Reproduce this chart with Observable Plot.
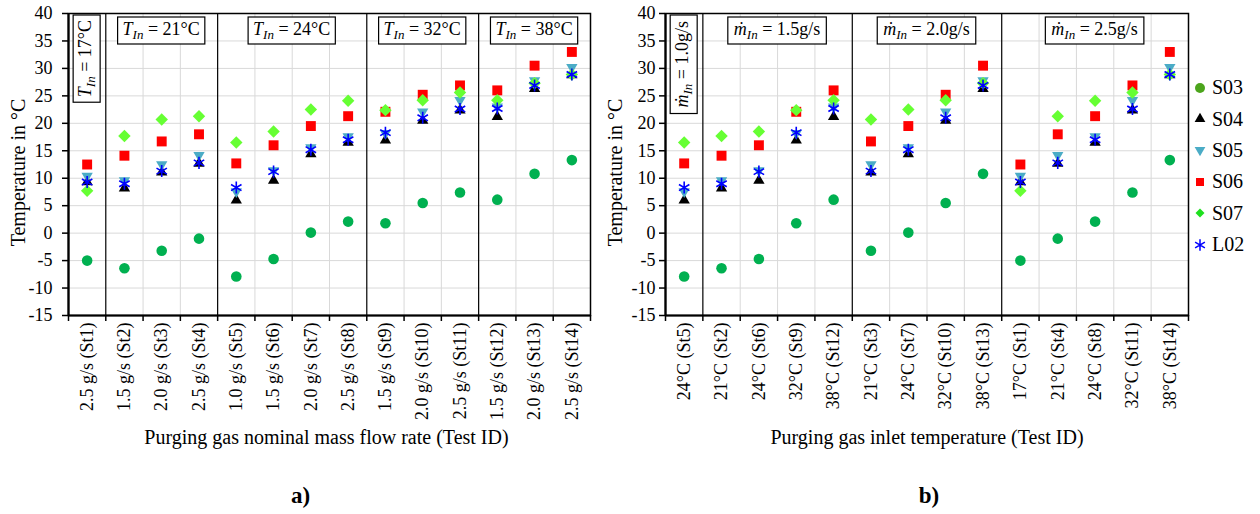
<!DOCTYPE html>
<html><head><meta charset="utf-8">
<script src="https://cdn.jsdelivr.net/npm/d3@7"></script>
<script src="https://cdn.jsdelivr.net/npm/@observablehq/plot@0.6"></script>
<style>
html,body{margin:0;padding:0;background:#fff;}
#root{position:relative;width:1260px;height:514px;overflow:hidden;font-family:"Liberation Serif","Times New Roman",serif;}
#chartA{position:absolute;left:0;top:0;}
#chartB{position:absolute;left:600px;top:0;}
#legend{position:absolute;left:1191px;top:72px;}
.li{display:flex;align-items:center;height:31.4px;font-size:20px;color:#000;}
.li svg{width:18px;height:18px;margin-right:3px;overflow:visible;}
</style></head><body>
<div id="root"><div id="chartA"></div><div id="chartB"></div><div id="legend"></div></div>
<script>
// ---- data ----
const testIds   = ["St1","St2","St3","St4","St5","St6","St7","St8","St9","St10","St11","St12","St13","St14"];
const flowRate  = ["2.5 g/s","1.5 g/s","2.0 g/s","2.5 g/s","1.0 g/s","1.5 g/s","2.0 g/s","2.5 g/s","1.5 g/s","2.0 g/s","2.5 g/s","1.5 g/s","2.0 g/s","2.5 g/s"];
const inletTemp = ["17°C","21°C","21°C","21°C","24°C","24°C","24°C","24°C","32°C","32°C","32°C","38°C","38°C","38°C"];

const S03 = [-5.0, -6.4, -3.2, -1.0, -7.9, -4.7, 0.1, 2.1, 1.8, 5.5, 7.4, 6.1, 10.8, 13.3];
const S04 = [9.3, 8.2, 11.1, 12.7, 6.0, 9.6, 14.4, 16.5, 16.9, 20.5, 22.4, 21.2, 26.3, 28.8];
const S05 = [10.4, 9.6, 12.5, 14.2, 7.6, 11.4, 15.6, 17.6, 18.2, 22.1, 24.2, 23.0, 27.8, 30.2];
const S06 = [12.5, 14.1, 16.7, 18.0, 12.7, 16.0, 19.5, 21.3, 22.1, 25.2, 26.9, 26.0, 30.5, 33.0];
const S07 = [7.7, 17.7, 20.7, 21.3, 16.5, 18.5, 22.5, 24.1, 22.4, 24.2, 25.6, 24.2, 27.3, 28.9];
const L02 = [9.3, 9.0, 11.3, 12.8, 8.3, 11.2, 15.2, 17.0, 18.3, 21.0, 22.6, 22.7, 26.9, 28.9];

const seriesNames = ["S03","S04","S05","S06","S07","L02"];
const seriesValues = {S03, S04, S05, S06, S07, L02};
const yTicks = [-15,-10,-5,0,5,10,15,20,25,30,35,40];

const orderA = testIds;
const orderB = ["St5","St2","St6","St9","St12","St3","St7","St10","St13","St1","St4","St8","St11","St14"];
const groupSizesA = [1,3,4,3,3];
const groupLabelsA = ["17°C","21°C","24°C","32°C","38°C"];
const groupSizesB = [1,4,4,5];
const groupLabelsB = ["1.0g/s","1.5g/s","2.0g/s","2.5g/s"];

// ---- styles ----
const triDown = {draw(ctx, size){const y=Math.sqrt(size/(Math.sqrt(3)*3)); ctx.moveTo(0,y*2); ctx.lineTo(-Math.sqrt(3)*y,-y); ctx.lineTo(Math.sqrt(3)*y,-y); ctx.closePath();}};
const style = {
  S03:{symbol:"circle", r:5.3, fill:"#00b050", stroke:"none"},
  S04:{symbol:"triangle", r:4.2, fill:"#000000", stroke:"none"},
  S05:{symbol:triDown, r:4.2, fill:"#4bacc6", stroke:"none"},
  S06:{symbol:"square", r:5.6, fill:"#ff0000", stroke:"none"},
  S07:{symbol:"diamond2", r:5.6, fill:"#66ff33", stroke:"none"},
  L02:{symbol:"asterisk", r:5.7, fill:"none", stroke:"#0000ff", strokeWidth:1.6}
};
const FONT = '"Liberation Serif","Times New Roman",serif';

function makeChart(o) {
  const n = o.order.length;
  const idx = d3.range(n);
  const cuts = d3.cumsum(o.groupSizes).slice(0,-1).map(c => c - 0.5);
  const bounds = d3.range(n + 1).map(i => i - 0.5);
  const inner = bounds.slice(1,-1).filter(b => !cuts.includes(b));
  const dots = seriesNames.map(s => {
    const rows = o.order.map((t,i) => ({i, v: seriesValues[s][testIds.indexOf(t)]}));
    return Plot.dot(rows, {x:"i", y:"v", ...style[s]});
  });
  const plot = Plot.plot({
    width: o.width, height: 514, marginLeft: o.marginLeft, marginRight: o.marginRight, marginTop: 13, marginBottom: 199,
    style: {fontFamily: FONT, fontSize: "18px", color: "#000", background: "transparent", overflow: "visible"},
    x: {type: "linear", domain: [-0.5, n - 0.5]},
    y: {domain: [-15, 40]},
    marks: [
      Plot.gridY({ticks: yTicks, stroke: "#d9d9d9", strokeOpacity: 1}),
      Plot.gridX({ticks: inner, stroke: "#d9d9d9", strokeOpacity: 1}),
      Plot.ruleX(cuts, {stroke: "#000", strokeWidth: 1.2}),
      Plot.frame({stroke: "#000", strokeWidth: 1.5}),
      Plot.ruleX([bounds[0]], {stroke: "#000", strokeWidth: 2.2}),
      Plot.ruleY([yTicks[0]], {stroke: "#000", strokeWidth: 2.2}),
      Plot.axisY({ticks: yTicks, tickSize: 6, tickPadding: o.tickPadY, tickFormat: d => String(d), fontSize: 18, label: null, strokeWidth: 1.5}),
      Plot.axisX({ticks: bounds, tickSize: 6, tickFormat: () => "", label: null, strokeWidth: 1.5}),
      Plot.axisX({ticks: idx, tickSize: 0, tickPadding: 7, tickRotate: -90, tickFormat: i => o.tickText[i], fontSize: 18, label: null}),
      ...dots,
      Plot.text([o.xTitle], {text: d => d, frameAnchor: "bottom", textAnchor: "middle", dy: 128, dx: o.titleDx, fontSize: 20}),
      Plot.text(["Temperature in °C"], {text: d => d, frameAnchor: "left", textAnchor: "middle", rotate: -90, dx: -50, dy: 8, fontSize: 20}),
      Plot.text([o.panel], {text: d => d, frameAnchor: "bottom", textAnchor: "middle", dy: 187, dx: o.panelDx, fontSize: 23, fontWeight: "bold"})
    ]
  });
  document.querySelector(o.target).appendChild(plot);
  // group annotation boxes, placed with the plot's own x scale
  const sx = plot.scale("x");
  const svg = d3.select(plot.tagName.toLowerCase() === "svg" ? plot : plot.querySelector("svg"));
  let start = 0;
  o.groupSizes.forEach((k, gi) => {
    const cx = (sx.apply(start - 0.5) + sx.apply(start + k - 0.5)) / 2;
    start += k;
    const vertical = gi === 0;
    const g = svg.append("g");
    const rect = g.append("rect").attr("fill", "#fff").attr("stroke", "#000").attr("stroke-width", 1.2);
    const t = g.append("text").attr("text-anchor", "middle").attr("font-size", 18).attr("font-family", FONT).attr("fill", "#000");
    t.append("tspan").attr("font-style", "italic").text(o.head);
    t.append("tspan").attr("font-style", "italic").attr("font-size", 13).attr("dy", 4).text("In");
    t.append("tspan").attr("dy", -4).text(" = " + o.groupLabels[gi]);
    const b = t.node().getBBox();
    const padX = o.padX, padY = 2;
    rect.attr("x", b.x - padX).attr("y", b.y - padY).attr("width", b.width + 2*padX).attr("height", b.height + 2*padY);
    const len = b.width + 2*padX, thick = b.height + 2*padY;
    const ox = b.x + b.width/2, oy = b.y + b.height/2;
    if (vertical) g.attr("transform", `translate(${cx},${13 + 2 + len/2}) rotate(-90) translate(${-ox},${-oy})`);
    else g.attr("transform", `translate(${cx},${13 + 4 + thick/2}) translate(${-ox},${-oy})`);
  });
}

makeChart({target: "#chartA", order: orderA, tickText: orderA.map(t => `${flowRate[testIds.indexOf(t)]} (${t})`),
  groupSizes: groupSizesA, groupLabels: groupLabelsA, head: "T", padX: 5,
  xTitle: "Purging gas nominal mass flow rate (Test ID)", panel: "a)", panelDx: -29, titleDx: -3,
  width: 600, marginLeft: 68, marginRight: 10, tickPadY: 10});
makeChart({target: "#chartB", order: orderB, tickText: orderB.map(t => `${inletTemp[testIds.indexOf(t)]} (${t})`),
  groupSizes: groupSizesB, groupLabels: groupLabelsB, head: "ṁ", padX: 6,
  xTitle: "Purging gas inlet temperature (Test ID)", panel: "b)", panelDx: 2, titleDx: 0,
  width: 660, marginLeft: 65, marginRight: 72, tickPadY: 4});

// legend
const legendStyle = {
  S03:{sym:d3.symbolCircle, size:78, fill:"#4ca51c"},
  S04:{sym:d3.symbolTriangle, size:50, fill:"#000"},
  S05:{sym:triDown, size:50, fill:"#4bacc6"},
  S06:{sym:d3.symbolSquare, size:64, fill:"#ff0000"},
  S07:{sym:d3.symbolDiamond2, size:52, fill:"#1ee01e"},
  L02:{sym:d3.symbolAsterisk, size:90, stroke:"#0000ff"}
};
const leg = d3.select("#legend");
seriesNames.forEach(s => {
  const row = leg.append("div").attr("class", "li");
  const sv = row.append("svg").attr("viewBox", "-9 -9 18 18");
  const ls = legendStyle[s];
  sv.append("path").attr("d", d3.symbol(ls.sym, ls.size)())
    .attr("fill", ls.fill || "none").attr("stroke", ls.stroke || "none").attr("stroke-width", 1.5);
  row.append("span").text(s);
});
</script></body></html>
